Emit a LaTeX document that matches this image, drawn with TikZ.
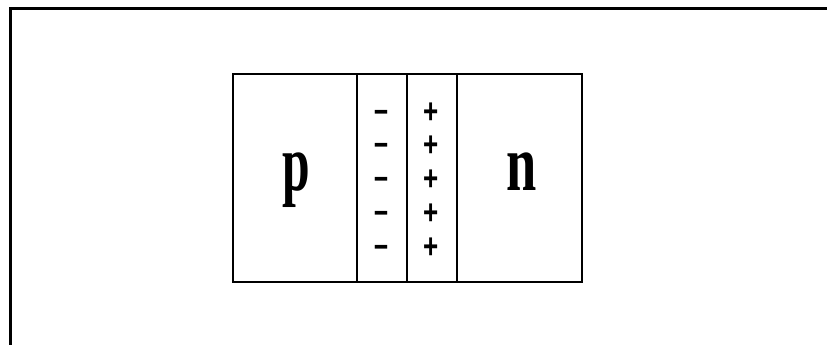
\documentclass[tikz,border=0pt]{standalone}
\usepackage{fontspec}
\usepackage{graphicx}
\setmainfont{Liberation Serif}
\newfontfamily\chargefont{Liberation Sans}

\begin{document}
\begin{tikzpicture}[
  x=1pt, y=-1pt,
  frameline/.style={draw=black, line width=3pt},
  junction/.style={draw=black, line width=2pt},
  divider/.style={draw=black, line width=1.7pt},
  regionlabel/.style={anchor=base, inner sep=0pt, font=\bfseries\fontsize{80}{80}\selectfont},
  charge/.style={anchor=base, inner sep=0pt, font=\chargefont\bfseries\fontsize{26}{26}\selectfont}
]
  \useasboundingbox (0,0) rectangle (827,345);
  % outer frame, open at right and bottom
  \draw[frameline] (10,345) -- (10,8.5) -- (827,8.5);
  % p-n junction with depletion layer
  \draw[junction] (232.7,74) rectangle (581.7,282);
  \draw[divider] (357,74) -- (357,282);
  \draw[divider] (406.7,74) -- (406.7,282);
  \draw[divider] (457.3,74) -- (457.3,282);
  \node[regionlabel] (plabel) at (296.5,190) {\scalebox{0.62}[1]{p}};
  \node[regionlabel] (nlabel) at (522,190) {\scalebox{0.68}[1]{n}};
  \foreach \i in {0,...,4} {
    \node[charge] (minus\i) at (381,123+33.8*\i) {\scalebox{0.95}[1.3]{−}};
    \node[charge] (plus\i) at (431,123+33.8*\i) {\scalebox{1}[1.35]{+}};
  }
\end{tikzpicture}
\end{document}
